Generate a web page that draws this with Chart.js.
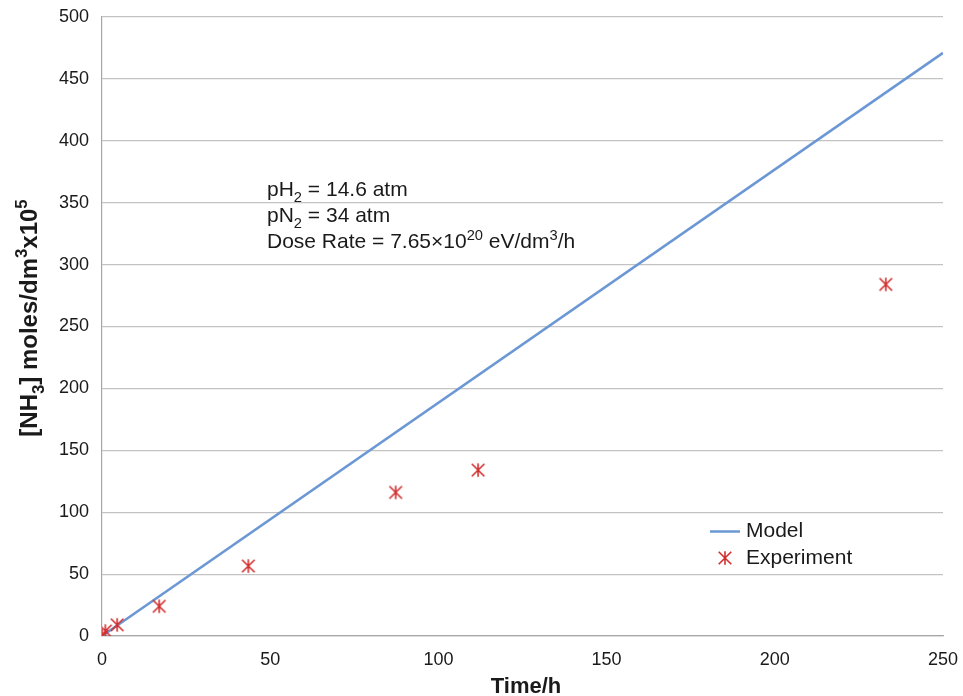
<!DOCTYPE html>
<html>
<head>
<meta charset="utf-8">
<script src="https://cdn.jsdelivr.net/npm/chart.js@4.4.1/dist/chart.umd.min.js"></script>
<style>
  html, body { margin: 0; padding: 0; background: #ffffff; }
  #wrap { width: 963px; height: 696px; position: relative; }
</style>
</head>
<body>
<div id="wrap"><canvas id="chart"></canvas></div>
<script>
// Measured ammonia yield (time in hours, [NH3] in moles/dm3 x 10^5)
const expTime = [0, 1, 4.5, 17, 43.5, 87.3, 111.8, 233];
const expNH3  = [0, 4, 9, 24, 56.5, 116, 134, 284];

// Model prediction (straight line)
const modelTime = [0, 250];
const modelNH3  = [0, 471];

// Axis ticks
const xTickValues = [0, 50, 100, 150, 200, 250];
const yTickValues = [0, 50, 100, 150, 200, 250, 300, 350, 400, 450, 500];

const FONT = '"Liberation Sans", Arial, Helvetica, sans-serif';
const MODEL_COLOR = '#6b98d4';
const EXP_COLOR = '#d22f2f';
const TEXT_COLOR = '#1a1a1a';

// Asterisk marker: an X crossed by a vertical stroke
function makeStar(color) {
  const s = 18, c = s / 2, r = 6.3;
  const cv = document.createElement('canvas');
  cv.width = s; cv.height = s;
  const g = cv.getContext('2d');
  g.strokeStyle = color;
  g.lineWidth = 1.6;
  g.beginPath();
  g.moveTo(c - r, c - r); g.lineTo(c + r, c + r);
  g.moveTo(c + r, c - r); g.lineTo(c - r, c + r);
  g.moveTo(c, c - r - 0.5); g.lineTo(c, c + r + 0.5);
  g.stroke();
  return cv;
}
const starImg = makeStar(EXP_COLOR);

// Text with subscripts / superscripts: parts = [[text, mode]], mode -1 sub, 1 sup
const SMALL = 0.7;
function richWidth(ctx, parts, size, weight) {
  let w = 0;
  for (const [t, m] of parts) {
    const fs = m === 0 ? size : size * SMALL;
    ctx.font = `${weight} ${fs}px ${FONT}`;
    w += ctx.measureText(t).width;
  }
  return w;
}
function drawRich(ctx, parts, x, y, size, weight, color) {
  ctx.fillStyle = color;
  ctx.textBaseline = 'alphabetic';
  ctx.textAlign = 'left';
  let cx = x;
  for (const [t, m] of parts) {
    const fs = m === 0 ? size : size * SMALL;
    ctx.font = `${weight} ${fs}px ${FONT}`;
    const dy = m === -1 ? size * 0.3 : (m === 1 ? -size * 0.4 : 0);
    ctx.fillText(t, cx, y + dy);
    cx += ctx.measureText(t).width;
  }
}

const notes = [
  [['pH', 0], ['2', -1], [' = 14.6 atm', 0]],
  [['pN', 0], ['2', -1], [' = 34 atm', 0]],
  [['Dose Rate = 7.65\u00d710', 0], ['20', 1], [' eV/dm', 0], ['3', 1], ['/h', 0]]
];
const yTitle = [['[NH', 0], ['3', -1], ['] moles/dm', 0], ['3', 1], ['x10', 0], ['5', 1]];
const xTitle = [['Time/h', 0]];

const textPlugin = {
  id: 'chartText',
  afterDraw(chart) {
    const ctx = chart.ctx;
    const area = chart.chartArea;
    ctx.save();

    // Conditions block
    const nx = 267, ny = [195.5, 221.5, 248];
    notes.forEach((p, i) => drawRich(ctx, p, nx, ny[i], 21, 'normal', TEXT_COLOR));

    // X axis title
    const xw = richWidth(ctx, xTitle, 22, 'bold');
    drawRich(ctx, xTitle, 526 - xw / 2, 693, 22, 'bold', TEXT_COLOR);

    // Y axis title (rotated)
    const yw = richWidth(ctx, yTitle, 24, 'bold');
    ctx.save();
    ctx.translate(37, 318);
    ctx.rotate(-Math.PI / 2);
    drawRich(ctx, yTitle, -yw / 2, 0, 24, 'bold', TEXT_COLOR);
    ctx.restore();

    // Legend
    const ds0 = chart.data.datasets[0], ds1 = chart.data.datasets[1];
    ctx.strokeStyle = ds0.borderColor;
    ctx.lineWidth = ds0.borderWidth;
    ctx.beginPath();
    ctx.moveTo(710, 531.5); ctx.lineTo(740, 531.5);
    ctx.stroke();
    ctx.drawImage(ds1.pointStyle, 725 - 9, 558 - 9);
    ctx.font = `21px ${FONT}`;
    ctx.fillStyle = TEXT_COLOR;
    ctx.textBaseline = 'middle';
    ctx.textAlign = 'left';
    ctx.fillText(ds0.label, 746, 531);
    ctx.fillText(ds1.label, 746, 558);

    ctx.restore();
  }
};

new Chart(document.getElementById('chart'), {
  type: 'scatter',
  data: {
    datasets: [
      {
        label: 'Model',
        type: 'line',
        data: modelTime.map((t, i) => ({ x: t, y: modelNH3[i] })),
        borderColor: MODEL_COLOR,
        backgroundColor: MODEL_COLOR,
        borderWidth: 2.5,
        pointRadius: 0,
        fill: false,
        order: 2
      },
      {
        label: 'Experiment',
        data: expTime.map((t, i) => ({ x: t, y: expNH3[i] })),
        pointStyle: starImg,
        borderColor: EXP_COLOR,
        backgroundColor: EXP_COLOR,
        order: 1
      }
    ]
  },
  options: {
    responsive: true,
    maintainAspectRatio: false,
    animation: false,
    layout: { padding: { top: 17, right: 20, left: 0, bottom: 0 } },
    plugins: {
      legend: { display: false },
      tooltip: { enabled: false }
    },
    scales: {
      x: {
        type: 'linear',
        min: 0, max: 250,
        afterBuildTicks: s => { s.ticks = xTickValues.map(v => ({ value: v })); },
        afterFit: s => { s.height = 60; s.paddingLeft = 0; s.paddingRight = 0; },
        grid: { color: 'rgba(0,0,0,0)', drawTicks: false },
        border: { display: true, color: '#a6a6a6', width: 1.2 },
        ticks: { font: { family: FONT, size: 18 }, color: TEXT_COLOR, padding: 13, maxRotation: 0 }
      },
      y: {
        type: 'linear',
        min: 0, max: 500,
        afterBuildTicks: s => { s.ticks = yTickValues.map(v => ({ value: v })); },
        afterFit: s => { s.width = 102; s.paddingTop = 0; s.paddingBottom = 0; },
        grid: { color: '#c3c3c3', lineWidth: 1.2, drawTicks: false },
        border: { display: true, color: '#a6a6a6', width: 1.2 },
        ticks: { font: { family: FONT, size: 18 }, color: TEXT_COLOR, padding: 13 }
      }
    }
  },
  plugins: [textPlugin]
});
</script>
</body>
</html>
